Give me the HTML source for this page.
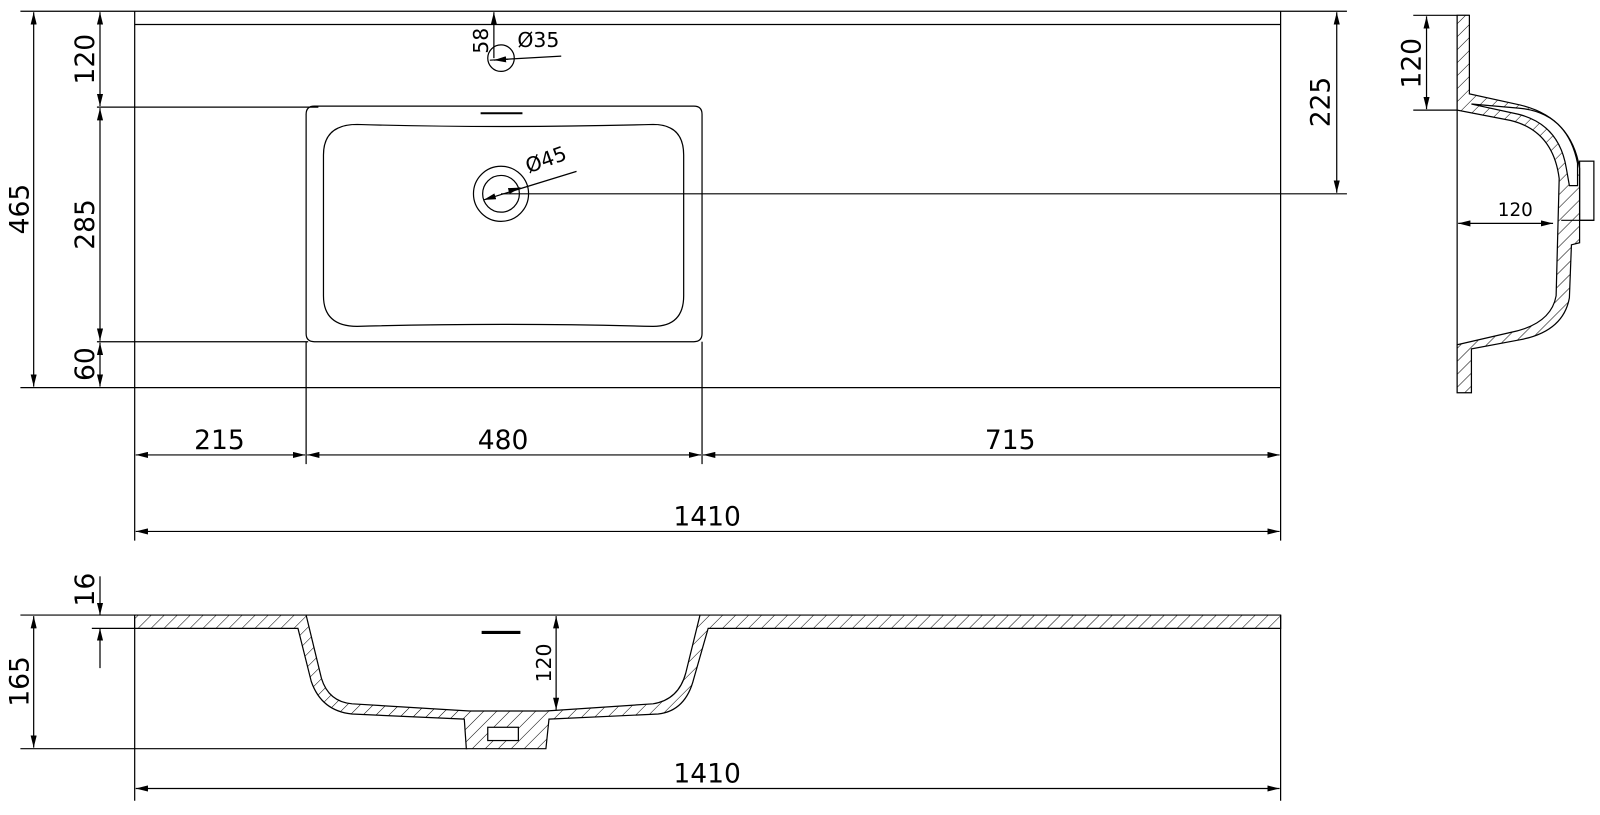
<!DOCTYPE html>
<html><head><meta charset="utf-8">
<style>
html,body{margin:0;padding:0;background:#fff;}
svg{display:block;}
text{font-family:"DejaVu Sans","Liberation Sans",sans-serif;fill:#000;}
</style></head>
<body>
<svg width="1600" height="815" viewBox="0 0 1568 799" preserveAspectRatio="none" xmlns="http://www.w3.org/2000/svg">
<defs>
<marker id="a" viewBox="0 0 12 6" refX="12" refY="3" markerWidth="12" markerHeight="6" orient="auto-start-reverse" markerUnits="userSpaceOnUse"><path d="M0,0 L12,3 L0,6 Z" fill="#000"/></marker>
<pattern id="h" width="9" height="9" patternUnits="userSpaceOnUse" patternTransform="rotate(45)"><rect width="9" height="9" fill="#fff"/><line x1="0" y1="0" x2="0" y2="9" stroke="#000" stroke-width="1"/></pattern>
</defs>
<g stroke="#000" stroke-width="1.2" fill="none">
<!-- TOP VIEW -->
<line x1="20" y1="11" x2="1320" y2="11"/>
<line x1="132" y1="24" x2="1255" y2="24"/>
<line x1="132" y1="11" x2="132" y2="530"/>
<line x1="1255" y1="11" x2="1255" y2="530"/>
<line x1="20" y1="380" x2="1255" y2="380"/>
<line x1="95" y1="105" x2="312" y2="105"/>
<line x1="95" y1="335" x2="302" y2="335"/>
<path d="M308,104 L680,104 Q688,104 688,112 L688,327 Q688,335 680,335 L308,335 Q300,335 300,327 L300,112 Q300,104 308,104 Z"/>
<path d="M350,122 Q490,126 640,122 Q670,122 670,152 L670,290 Q670,320 640,320 Q490,316 350,320 Q317,320 317,290 L317,152 Q317,122 350,122 Z"/>
<line x1="471" y1="111" x2="512" y2="111" stroke-width="2"/>
<circle cx="491" cy="57" r="13"/>
<circle cx="491" cy="190" r="27"/>
<circle cx="491" cy="190" r="18"/>
<line x1="491" y1="190" x2="1320" y2="190"/>
<line x1="1310" y1="12" x2="1310" y2="189" marker-start="url(#a)" marker-end="url(#a)"/>
<line x1="474" y1="196" x2="565" y2="168" marker-start="url(#a)"/>
<line x1="503" y1="186" x2="510" y2="184" marker-end="url(#a)"/>
<line x1="484" y1="12" x2="484" y2="57" marker-start="url(#a)"/>
<line x1="480" y1="59" x2="550" y2="55"/>
<line x1="484" y1="59" x2="498" y2="58" marker-start="url(#a)"/>
<!-- left dims -->
<line x1="33" y1="12" x2="33" y2="379" marker-start="url(#a)" marker-end="url(#a)"/>
<line x1="98" y1="12" x2="98" y2="104" marker-start="url(#a)" marker-end="url(#a)"/>
<line x1="98" y1="106" x2="98" y2="334" marker-start="url(#a)" marker-end="url(#a)"/>
<line x1="98" y1="336" x2="98" y2="379" marker-start="url(#a)" marker-end="url(#a)"/>
<!-- bottom dims -->
<line x1="300" y1="335" x2="300" y2="455"/>
<line x1="688" y1="335" x2="688" y2="455"/>
<line x1="133" y1="446" x2="299" y2="446" marker-start="url(#a)" marker-end="url(#a)"/>
<line x1="301" y1="446" x2="687" y2="446" marker-start="url(#a)" marker-end="url(#a)"/>
<line x1="689" y1="446" x2="1254" y2="446" marker-start="url(#a)" marker-end="url(#a)"/>
<line x1="133" y1="521" x2="1254" y2="521" marker-start="url(#a)" marker-end="url(#a)"/>

<!-- SECTION VIEW -->
<line x1="20" y1="603" x2="1255" y2="603"/>
<line x1="20" y1="734" x2="458" y2="734"/>
<line x1="90" y1="616" x2="132" y2="616"/>
<line x1="132" y1="603" x2="132" y2="785"/>
<line x1="1255" y1="603" x2="1255" y2="785"/>
<path fill="url(#h)" d="M132,603 L300,603 L315,665 Q322,688 345,690 L460,697 L535,697 L640,690 Q665,686 672,660 L686,603 L1255,603 L1255,616 L694,616 L680,665 Q672,697 645,700 L538,705 L535,734 L457,734 L455,705 L345,700 Q315,697 305,668 L292,616 L132,616 Z"/>
<rect x="478" y="713" width="30" height="13" fill="#fff"/>
<line x1="472" y1="620" x2="510" y2="620" stroke-width="3"/>
<line x1="545" y1="604" x2="545" y2="696" marker-start="url(#a)" marker-end="url(#a)"/>
<line x1="33" y1="604" x2="33" y2="733" marker-start="url(#a)" marker-end="url(#a)"/>
<line x1="98" y1="565" x2="98" y2="603" marker-end="url(#a)"/>
<line x1="98" y1="655" x2="98" y2="616" marker-end="url(#a)"/>
<line x1="133" y1="773" x2="1254" y2="773" marker-start="url(#a)" marker-end="url(#a)"/>

<!-- SIDE PROFILE -->
<line x1="1385" y1="15" x2="1440" y2="15"/>
<line x1="1385" y1="108" x2="1428" y2="108"/>
<line x1="1428" y1="15" x2="1428" y2="385"/>
<path fill="url(#h)" d="M1428,15 L1440,15 L1440,92 L1490,103 Q1540,115 1548,165 L1548,238 L1540,240 L1538,292 Q1532,325 1490,333 L1442,342 L1442,385 L1428,385 L1428,338 L1480,326 Q1520,318 1525,290 L1528,175 Q1522,128 1480,118 L1428,108 Z"/>
<path fill="#fff" d="M1442,102 L1488,112 Q1528,122 1535,165 L1538,182 L1546,182 L1546,160 Q1536,110 1488,106 Z"/>
<rect x="1548" y="158" width="14" height="58"/>
<line x1="1530" y1="216" x2="1562" y2="216"/>
<line x1="1398" y1="16" x2="1398" y2="107" marker-start="url(#a)" marker-end="url(#a)"/>
<line x1="1429" y1="219" x2="1522" y2="219" marker-start="url(#a)" marker-end="url(#a)"/>
</g>
<g font-size="26">
<text transform="translate(28,205) rotate(-90)" text-anchor="middle">465</text>
<text transform="translate(92,58) rotate(-90)" text-anchor="middle">120</text>
<text transform="translate(92,220) rotate(-90)" text-anchor="middle">285</text>
<text transform="translate(92,357) rotate(-90)" text-anchor="middle">60</text>
<text transform="translate(1303,100) rotate(-90)" text-anchor="middle">225</text>
<text x="215" y="440" text-anchor="middle">215</text>
<text x="493" y="440" text-anchor="middle">480</text>
<text x="990" y="440" text-anchor="middle">715</text>
<text x="693" y="515" text-anchor="middle">1410</text>
<text transform="translate(28,668) rotate(-90)" text-anchor="middle">165</text>
<text transform="translate(92,578) rotate(-90)" text-anchor="middle">16</text>
<text x="693" y="767" text-anchor="middle">1410</text>
<text transform="translate(1392,62) rotate(-90)" text-anchor="middle">120</text>
</g>
<g font-size="20">
<text transform="translate(478,40) rotate(-90)" text-anchor="middle">58</text>
<text x="507" y="46">Ø35</text>
<text transform="translate(518,170) rotate(-20)">Ø45</text>
<text transform="translate(540,650) rotate(-90)" text-anchor="middle">120</text>
<text x="1485" y="212" text-anchor="middle" font-size="18">120</text>
</g>
</svg>
</body></html>
